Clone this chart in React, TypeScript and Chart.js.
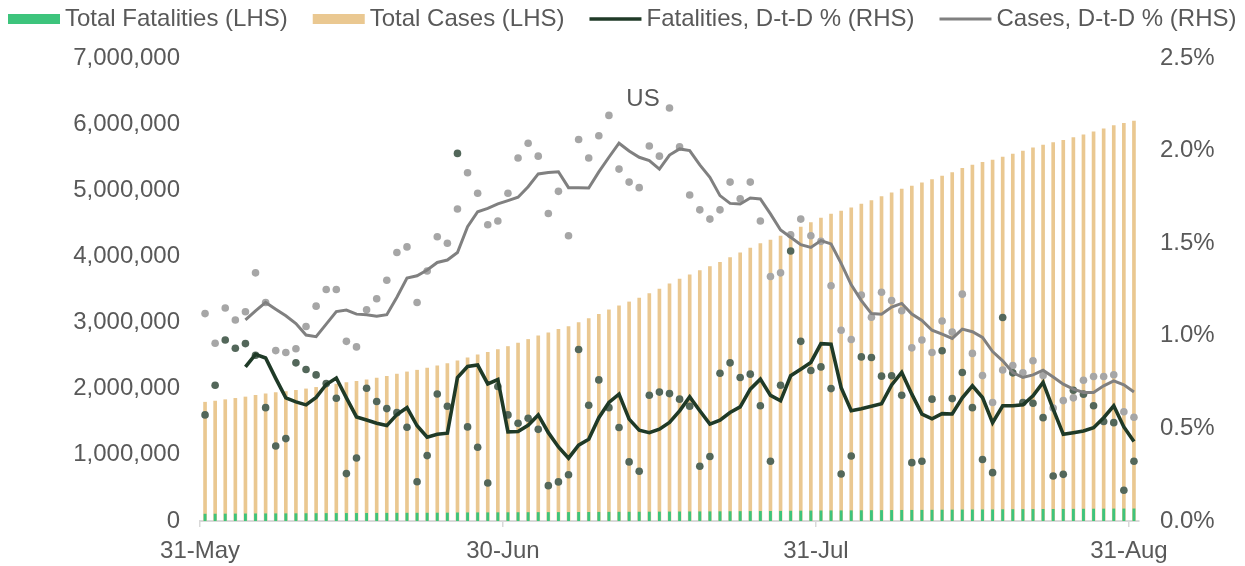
import React, { useEffect, useRef } from 'react';
import { Chart, registerables } from 'chart.js';

Chart.register(...registerables);

// ---------- data ----------
const dates = [
  '31-May',
  '1-Jun', '2-Jun', '3-Jun', '4-Jun', '5-Jun', '6-Jun', '7-Jun', '8-Jun', '9-Jun', '10-Jun',
  '11-Jun', '12-Jun', '13-Jun', '14-Jun', '15-Jun', '16-Jun', '17-Jun', '18-Jun', '19-Jun', '20-Jun',
  '21-Jun', '22-Jun', '23-Jun', '24-Jun', '25-Jun', '26-Jun', '27-Jun', '28-Jun', '29-Jun', '30-Jun',
  '1-Jul', '2-Jul', '3-Jul', '4-Jul', '5-Jul', '6-Jul', '7-Jul', '8-Jul', '9-Jul', '10-Jul',
  '11-Jul', '12-Jul', '13-Jul', '14-Jul', '15-Jul', '16-Jul', '17-Jul', '18-Jul', '19-Jul', '20-Jul',
  '21-Jul', '22-Jul', '23-Jul', '24-Jul', '25-Jul', '26-Jul', '27-Jul', '28-Jul', '29-Jul', '30-Jul', '31-Jul',
  '1-Aug', '2-Aug', '3-Aug', '4-Aug', '5-Aug', '6-Aug', '7-Aug', '8-Aug', '9-Aug', '10-Aug',
  '11-Aug', '12-Aug', '13-Aug', '14-Aug', '15-Aug', '16-Aug', '17-Aug', '18-Aug', '19-Aug', '20-Aug',
  '21-Aug', '22-Aug', '23-Aug', '24-Aug', '25-Aug', '26-Aug', '27-Aug', '28-Aug', '29-Aug', '30-Aug', '31-Aug',
];

const xTickLabels = ['31-May', '30-Jun', '31-Jul', '31-Aug'];

const totalCases = [
  1796000,
  1813000, 1834000, 1854000, 1875000, 1900000, 1922000, 1940000, 1958000, 1976000, 1997000,
  2020000, 2045000, 2071000, 2091000, 2111000, 2135000, 2161000, 2189000, 2221000, 2254000,
  2280000, 2311000, 2346000, 2381000, 2421000, 2467000, 2511000, 2551000, 2592000, 2638000,
  2690000, 2745000, 2799000, 2845000, 2896000, 2941000, 3001000, 3060000, 3124000, 3192000,
  3253000, 3312000, 3372000, 3440000, 3508000, 3586000, 3659000, 3723000, 3786000, 3847000,
  3912000, 3983000, 4053000, 4127000, 4194000, 4249000, 4306000, 4373000, 4444000, 4512000, 4581000,
  4639000, 4687000, 4733000, 4790000, 4843000, 4903000, 4961000, 5018000, 5065000, 5114000,
  5161000, 5216000, 5268000, 5332000, 5381000, 5423000, 5458000, 5502000, 5548000, 5593000,
  5641000, 5685000, 5720000, 5757000, 5795000, 5839000, 5885000, 5931000, 5978000, 6013000, 6047000,
];

const totalFatalities = [
  104000,
  104800, 105800, 106800, 107800, 108800, 109400, 109900, 110400, 111300, 112200,
  113100, 114000, 114700, 115000, 115400, 116200, 117000, 117700, 118400, 119000,
  119200, 119600, 120500, 121200, 123600, 124300, 124800, 125000, 125900, 126600,
  127300, 128000, 128600, 128900, 129100, 129500, 130700, 131500, 132500, 133300,
  134000, 134400, 134800, 135700, 136600, 137600, 138500, 139300, 139800, 140200,
  141300, 142600, 143700, 144800, 145700, 146200, 147300, 149400, 150900, 152100, 153400,
  154500, 154900, 155400, 156800, 158200, 159400, 160700, 161800, 162300, 162800,
  163900, 165400, 166500, 167800, 168800, 169400, 169800, 171700, 173100, 174200,
  175300, 176300, 176700, 177100, 178400, 179600, 180700, 181700, 182700, 183000, 183600,
];

// daily % change (dots)
const fatalitiesDtd = [
  0.573,
  0.733, 0.977, 0.933, 0.958, 0.895, 0.612, 0.405, 0.445, 0.854, 0.818,
  0.789, 0.742, 0.663, 0.256, 0.34, 0.717, 0.645, 0.607, 0.585, 0.506,
  0.212, 0.353, 0.686, 0.62, 1.985, 0.508, 0.398, 0.205, 0.726, 0.573,
  0.528, 0.555, 0.495, 0.191, 0.211, 0.25, 0.926, 0.625, 0.762, 0.612,
  0.505, 0.319, 0.269, 0.679, 0.696, 0.688, 0.658, 0.62, 0.296, 0.348,
  0.798, 0.854, 0.775, 0.793, 0.622, 0.323, 0.733, 1.458, 0.97, 0.813, 0.832,
  0.715, 0.254, 0.351, 0.886, 0.883, 0.782, 0.784, 0.679, 0.315, 0.323,
  0.658, 0.919, 0.661, 0.802, 0.612, 0.332, 0.261, 1.099, 0.8, 0.64,
  0.636, 0.558, 0.243, 0.252, 0.706, 0.685, 0.622, 0.537, 0.531, 0.166, 0.323,
];

const casesDtd = [
  1.12,
  0.96, 1.15, 1.085, 1.13, 1.34, 1.18, 0.92, 0.91, 0.93, 1.05,
  1.16, 1.25, 1.25, 0.97, 0.94, 1.14, 1.2, 1.3, 1.45, 1.48,
  1.18, 1.35, 1.535, 1.5, 1.685, 1.88, 1.77, 1.6, 1.62, 1.77,
  1.96, 2.04, 1.97, 1.66, 1.78, 1.54, 2.06, 1.96, 2.08, 2.19,
  1.9, 1.83, 1.8, 2.025, 1.97, 2.23, 2.02, 1.76, 1.68, 1.63,
  1.68, 1.83, 1.74, 1.83, 1.62, 1.32, 1.34, 1.545, 1.63, 1.54, 1.51,
  1.27, 1.03, 0.98, 1.22, 1.1, 1.235, 1.19, 1.135, 0.935, 0.977,
  0.91, 1.08, 1.02, 1.225, 0.905, 0.785, 0.64, 0.815, 0.84, 0.8,
  0.865, 0.785, 0.61, 0.65, 0.665, 0.76, 0.78, 0.78, 0.79, 0.59, 0.56,
];

// smoothed lines
const fatalitiesDtdAvg = [
  null,
  null, null, null, 0.832, 0.9, 0.88, 0.77, 0.665, 0.643, 0.627,
  0.667, 0.737, 0.772, 0.665, 0.562, 0.545, 0.528, 0.515, 0.575, 0.612,
  0.514, 0.452, 0.468, 0.474, 0.775, 0.834, 0.842, 0.74, 0.764, 0.481,
  0.483, 0.517, 0.573, 0.477, 0.4, 0.339, 0.41, 0.441, 0.558, 0.64,
  0.685, 0.55, 0.49, 0.477, 0.496, 0.532, 0.595, 0.67, 0.595, 0.523,
  0.544, 0.586, 0.616, 0.712, 0.766, 0.678, 0.649, 0.784, 0.82, 0.856, 0.958,
  0.955, 0.72, 0.595, 0.606, 0.619, 0.633, 0.735, 0.802, 0.685, 0.577,
  0.552, 0.58, 0.578, 0.665, 0.73, 0.667, 0.531, 0.622, 0.622, 0.627,
  0.676, 0.748, 0.604, 0.468, 0.477, 0.486, 0.504, 0.558, 0.622, 0.508, 0.429,
];

const casesDtdAvg = [
  null,
  null, null, null, 1.086, 1.135, 1.18, 1.144, 1.108, 1.066, 1.004,
  0.995, 1.063, 1.131, 1.139, 1.117, 1.114, 1.106, 1.114, 1.208, 1.312,
  1.324, 1.355, 1.396, 1.409, 1.45, 1.589, 1.67, 1.688, 1.712, 1.73,
  1.748, 1.805, 1.874, 1.882, 1.886, 1.8, 1.8, 1.798, 1.885, 1.964,
  2.04, 1.998, 1.964, 1.946, 1.9, 1.976, 2.009, 2.0, 1.923, 1.856,
  1.757, 1.715, 1.712, 1.744, 1.739, 1.658, 1.571, 1.532, 1.492, 1.477, 1.514,
  1.496, 1.391, 1.275, 1.19, 1.12, 1.117, 1.155, 1.175, 1.117, 1.083,
  1.03, 1.009, 0.986, 1.036, 1.022, 0.991, 0.915, 0.865, 0.802, 0.775,
  0.789, 0.814, 0.778, 0.739, 0.712, 0.694, 0.694, 0.73, 0.757, 0.735, 0.697,
];

const leftAxis = { min: 0, max: 7000000, step: 1000000 };
const rightAxis = { min: 0, max: 2.5, step: 0.5 };
const chartTitle = 'US';

// ---------- styling ----------
const FONT = '"Liberation Sans", Arial, Helvetica, sans-serif';
const TEXT = '#595959';
const FONT_SIZE = 24;

const legendPlugin = {
  id: 'customLegend',
  afterDraw(chart: any) {
    const ctx = chart.ctx;
    ctx.save();
    ctx.font = `${FONT_SIZE}px ${FONT}`;
    ctx.textBaseline = 'middle';
    ctx.textAlign = 'left';
    let x = 8;
    const y = 19;
    const sw = 52;
    chart.data.datasets.forEach((ds: any) => {
      if (!ds.legendSwatch) return;
      if (ds.legendSwatch === 'box') {
        ctx.fillStyle = ds.backgroundColor;
        ctx.fillRect(x, y - 5, sw, 10);
      } else {
        ctx.strokeStyle = ds.borderColor;
        ctx.lineWidth = ds.borderWidth;
        ctx.beginPath();
        ctx.moveTo(x, y);
        ctx.lineTo(x + sw, y);
        ctx.stroke();
      }
      x += sw + 5;
      ctx.fillStyle = TEXT;
      ctx.fillText(ds.label, x, y);
      x += ctx.measureText(ds.label).width + 25;
    });
    // in-chart title
    ctx.textAlign = 'center';
    ctx.fillStyle = TEXT;
    ctx.fillText(chartTitle, 643, 99);
    ctx.restore();
  },
};

export default function App() {
  const canvasRef = useRef<HTMLCanvasElement | null>(null);

  useEffect(() => {
    document.body.style.margin = '0';
    const canvas = canvasRef.current;
    if (!canvas) return;

    const textFont = { family: FONT, size: FONT_SIZE };

    const chart = new Chart(canvas, {
      type: 'bar',
      data: {
        labels: dates,
        datasets: [
          {
            type: 'bar',
            label: 'Total Fatalities (LHS)',
            data: totalFatalities,
            backgroundColor: '#3DC47C',
            barThickness: 2.2,
            grouped: false,
            yAxisID: 'y',
            order: 2,
            legendSwatch: 'box',
          } as any,
          {
            type: 'bar',
            label: 'Total Cases (LHS)',
            data: totalCases,
            backgroundColor: '#EAC891',
            barThickness: 3,
            grouped: false,
            yAxisID: 'y',
            order: 3,
            legendSwatch: 'box',
          } as any,
          {
            type: 'line',
            label: 'Fatalities, D-t-D % (RHS)',
            data: fatalitiesDtdAvg,
            borderColor: '#1F3A27',
            backgroundColor: '#1F3A27',
            borderWidth: 3.6,
            pointRadius: 0,
            tension: 0,
            yAxisID: 'y1',
            order: 0,
            legendSwatch: 'line',
          } as any,
          {
            type: 'line',
            label: 'Cases, D-t-D % (RHS)',
            data: casesDtdAvg,
            borderColor: '#808080',
            backgroundColor: '#808080',
            borderWidth: 3,
            pointRadius: 0,
            tension: 0,
            yAxisID: 'y1',
            order: 0,
            legendSwatch: 'line',
          } as any,
          {
            type: 'line',
            label: 'Fatalities daily',
            data: fatalitiesDtd,
            showLine: false,
            pointRadius: 3.8,
            pointBorderWidth: 0,
            pointBackgroundColor: '#53675A',
            borderColor: '#53675A',
            yAxisID: 'y1',
            order: 1,
          } as any,
          {
            type: 'line',
            label: 'Cases daily',
            data: casesDtd,
            showLine: false,
            pointRadius: 3.8,
            pointBorderWidth: 0,
            pointBackgroundColor: '#A6A6A6',
            borderColor: '#A6A6A6',
            yAxisID: 'y1',
            order: 1,
          } as any,
        ],
      },
      options: {
        responsive: false,
        animation: false,
        events: [],
        layout: { padding: { top: 58, left: 0, right: 0, bottom: 0 } },
        plugins: {
          legend: { display: false },
          tooltip: { enabled: false },
          title: { display: false },
        },
        scales: {
          x: {
            type: 'category',
            offset: true,
            grid: {
              display: true,
              drawOnChartArea: false,
              drawTicks: true,
              tickLength: 6,
              offset: true,
              lineWidth: 1.5,
              color: (c: any) =>
                c.tick && xTickLabels.includes(c.tick.label) ? '#D9D9D9' : 'rgba(0,0,0,0)',
            },
            border: { display: true, color: '#D9D9D9', width: 2 },
            ticks: {
              autoSkip: false,
              maxRotation: 0,
              minRotation: 0,
              labelOffset: -5,
              padding: 10,
              color: TEXT,
              font: textFont,
              callback: (_v: any, idx: number) =>
                xTickLabels.includes(dates[idx]) ? dates[idx] : '',
            },
            afterFit: (s: any) => {
              s.height = 45;
            },
          },
          y: {
            position: 'left',
            min: leftAxis.min,
            max: leftAxis.max,
            grid: { display: false, drawTicks: false },
            border: { display: false },
            ticks: {
              stepSize: leftAxis.step,
              padding: 20,
              color: TEXT,
              font: textFont,
              callback: (v: any) => Number(v).toLocaleString('en-US'),
            },
            afterFit: (s: any) => {
              s.width = 200;
            },
          },
          y1: {
            position: 'right',
            min: rightAxis.min,
            max: rightAxis.max,
            grid: { display: false, drawTicks: false },
            border: { display: false },
            ticks: {
              stepSize: rightAxis.step,
              padding: 21,
              color: TEXT,
              font: textFont,
              callback: (v: any) => Number(v).toFixed(1) + '%',
            },
            afterFit: (s: any) => {
              s.width = 106;
            },
          },
        },
      } as any,
      plugins: [legendPlugin],
    });

    return () => {
      chart.destroy();
    };
  }, []);

  return (
    <div style={{ width: 1245, height: 566 }}>
      <canvas ref={canvasRef} width={1245} height={566} style={{ display: 'block' }} />
    </div>
  );
}
